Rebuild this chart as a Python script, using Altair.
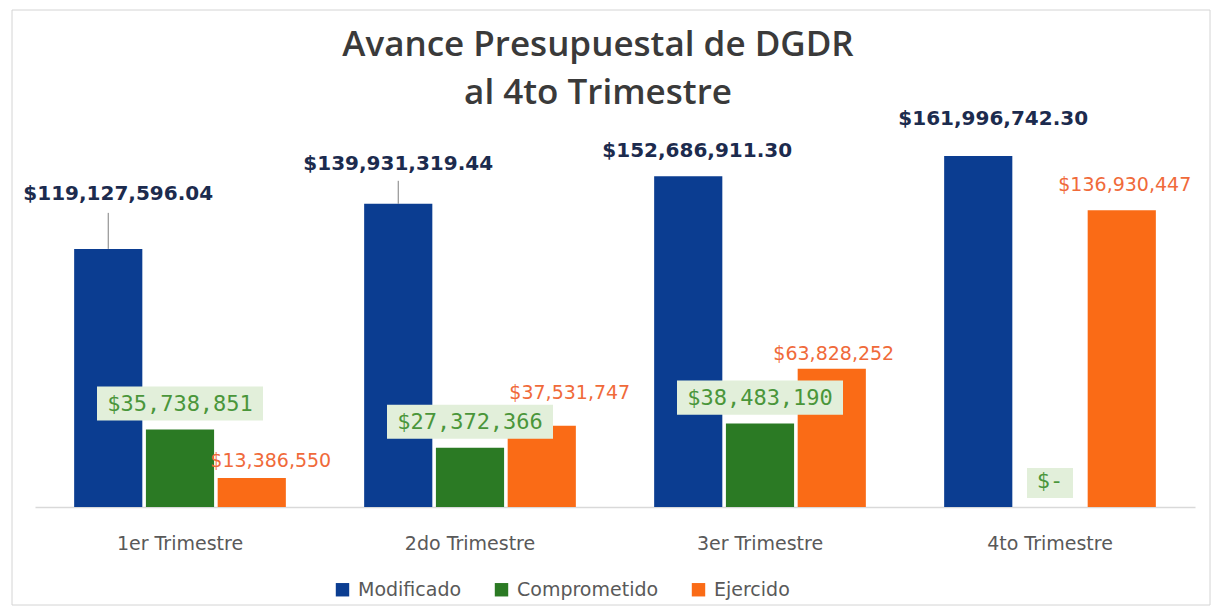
import altair as alt
import pandas as pd

trimestres = ["1er Trimestre", "2do Trimestre", "3er Trimestre", "4to Trimestre"]
series = ["Modificado", "Comprometido", "Ejercido"]
modificado = [119127596.04, 139931319.44, 152686911.30, 161996742.30]
comprometido = [35738851, 27372366, 38483190, 0]
ejercido = [13386550, 37531747, 63828252, 136930447]
colores = ["#0b3d91", "#2b7a24", "#fa6b16"]


def etiqueta(serie, v):
    if serie == "Modificado":
        return "${:,.2f}".format(v)
    if v == 0:
        return "$-"
    return "${:,.0f}".format(v)


rows = []
for i, t in enumerate(trimestres):
    for s, vals in zip(series, [modificado, comprometido, ejercido]):
        rows.append({"Trimestre": t, "Serie": s, "Valor": vals[i],
                     "Etiqueta": etiqueta(s, vals[i])})
df = pd.DataFrame(rows)

# label offsets (style)
mod_off = [(10, -55), (0, -40), (9, -25), (15, -37)]
eje_off = [(19, -17), (28, -33), (2, -15), (3, -25)]
leader = {0: -36, 1: -23}

x_enc = alt.X("Trimestre:N", sort=trimestres,
              scale=alt.Scale(paddingInner=0.27, paddingOuter=0.135),
              axis=alt.Axis(title=None, labelAngle=0, ticks=False, tickSize=0,
                            domainColor="#d9d9d9", domainWidth=1.5,
                            labelFont="DejaVu Sans", labelFontSize=19,
                            labelColor="#595959", labelPadding=27))
xo_enc = alt.XOffset("Serie:N", sort=series,
                     scale=alt.Scale(paddingInner=0.05, paddingOuter=0))
y_enc = alt.Y("Valor:Q", scale=alt.Scale(domain=[0, 174000000], nice=False),
              axis=None)

base = alt.Chart(df).encode(x=x_enc, xOffset=xo_enc, y=y_enc)

frame = alt.Chart(pd.DataFrame({"f": [0]})).mark_rect(
    fillOpacity=0, stroke="#d4d4d4", strokeWidth=1
).encode(x=alt.value(-23), x2=alt.value(1175), y=alt.value(-120), y2=alt.value(475))

bars = base.mark_bar().encode(
    color=alt.Color("Serie:N", sort=series,
                    scale=alt.Scale(domain=series, range=colores),
                    legend=alt.Legend(orient="none", legendX=298, legendY=450,
                                      direction="horizontal", title=None,
                                      symbolType="square", symbolSize=180,
                                      symbolStrokeWidth=0,
                                      labelFont="DejaVu Sans", labelFontSize=19,
                                      labelColor="#595959", columnPadding=30,
                                      labelOffset=6))
)

layers = [frame, bars]

# leader lines for Modificado labels
for i, off in leader.items():
    layers.append(
        base.transform_filter(
            (alt.datum.Serie == "Modificado") & (alt.datum.Trimestre == trimestres[i])
        ).mark_rule(color="#7f7f7f", strokeWidth=1, y2Offset=off).encode(y2="Valor:Q")
    )

# Modificado labels
for i, (dx, dy) in enumerate(mod_off):
    layers.append(
        base.transform_filter(
            (alt.datum.Serie == "Modificado") & (alt.datum.Trimestre == trimestres[i])
        ).mark_text(font="DejaVu Sans", fontWeight="bold", fontSize=20,
                    color="#1c2b4e", baseline="middle", align="center",
                    dx=dx, dy=dy).encode(text="Etiqueta:N")
    )

# Comprometido label boxes
layers.append(
    base.transform_filter(
        (alt.datum.Serie == "Comprometido") & (alt.datum.Valor > 0)
    ).mark_point(shape="M-1,-0.205H1V0.205H-1Z", size=27556, filled=True,
                 fill="#e2efda", opacity=1, strokeWidth=0, yOffset=-26)
)
layers.append(
    base.transform_filter(
        (alt.datum.Serie == "Comprometido") & (alt.datum.Valor == 0)
    ).mark_point(shape="M-1,-0.652H1V0.652H-1Z", size=2116, filled=True,
                 fill="#e2efda", opacity=1, strokeWidth=0, yOffset=-24)
)
layers.append(
    base.transform_filter(alt.datum.Serie == "Comprometido").mark_text(
        font="DejaVu Sans Mono", fontSize=22, color="#4a963a",
        baseline="middle", align="center", dy=-26
    ).encode(text="Etiqueta:N")
)

# Ejercido labels
for i, (dx, dy) in enumerate(eje_off):
    layers.append(
        base.transform_filter(
            (alt.datum.Serie == "Ejercido") & (alt.datum.Trimestre == trimestres[i])
        ).mark_text(font="DejaVu Sans", fontSize=19, color="#f06a3a",
                    baseline="middle", align="center",
                    dx=dx, dy=dy).encode(text="Etiqueta:N")
    )

chart = alt.layer(*layers).properties(
    width=1160,
    height=377,
    title=alt.Title(["Avance Presupuestal de DGDR", "al 4to Trimestre"],
                    font="Open Sans", fontSize=35, fontWeight=600,
                    color="#3a3a3a", lineHeight=48, anchor="middle",
                    frame="group", offset=-101, dx=-17),
    autosize=alt.AutoSizeParams(type="none"),
    padding={"left": 27, "top": 122, "right": 18, "bottom": 101},
    background="white",
).configure_view(stroke=None)

chart.save("out.html", embed_options={"renderer": "svg", "actions": False})
